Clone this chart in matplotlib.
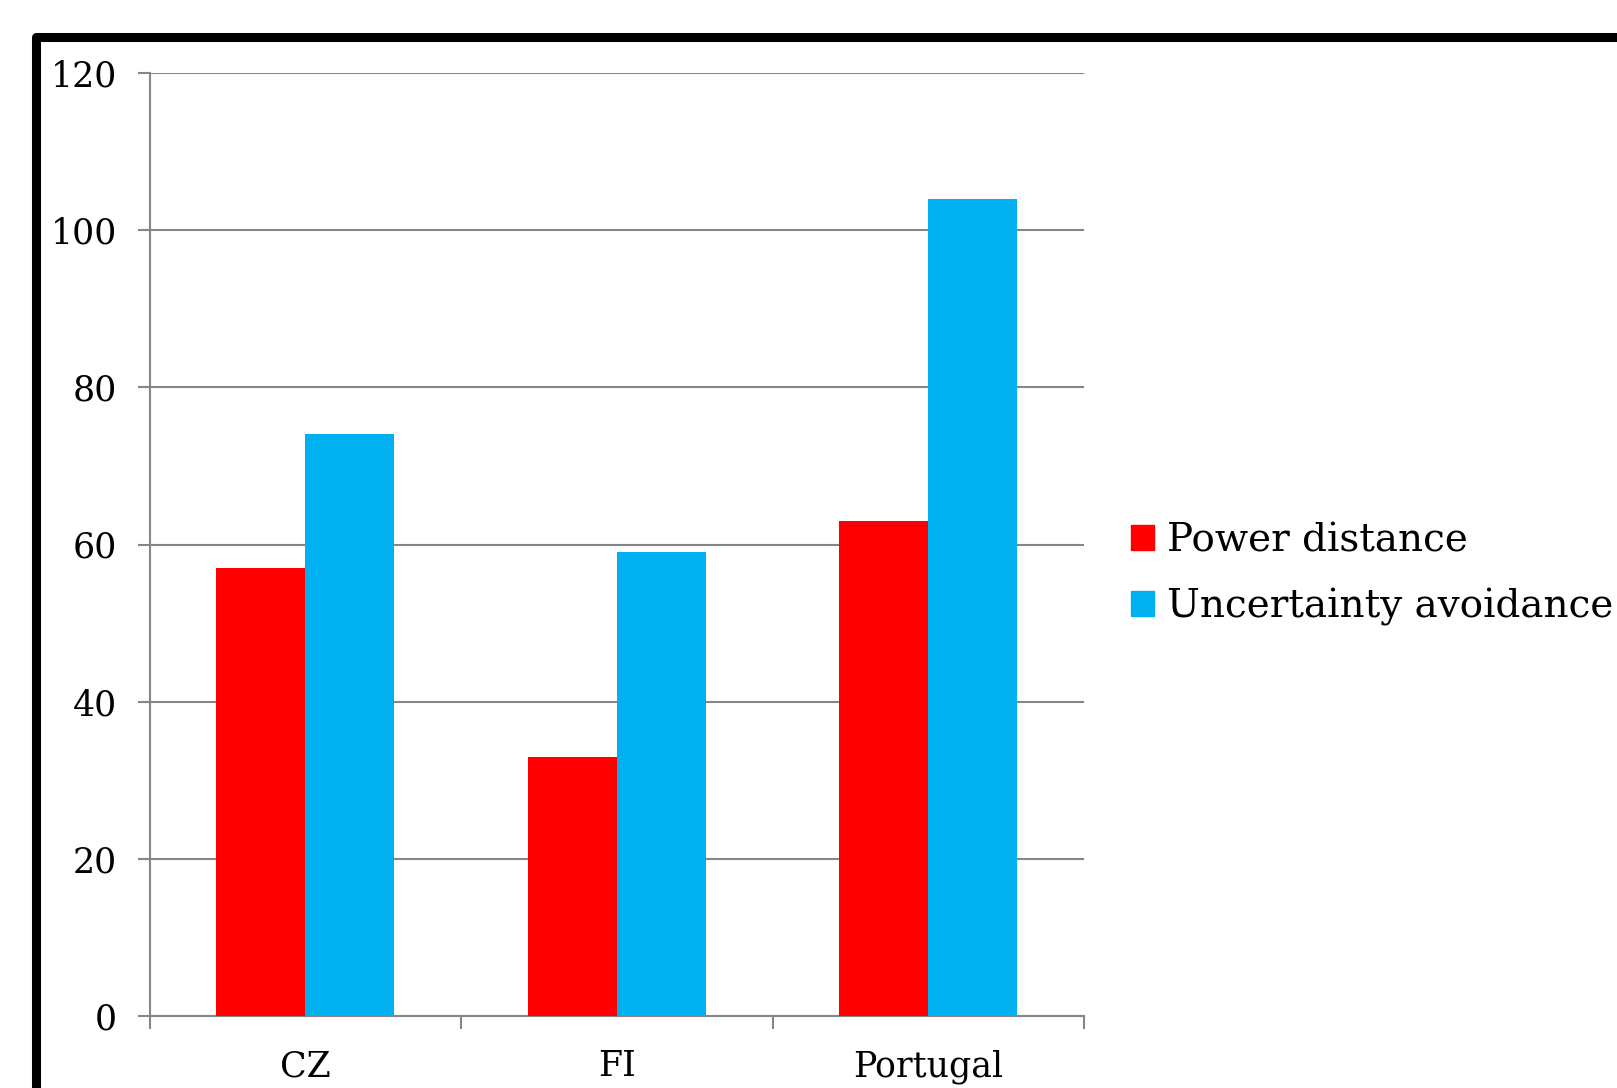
import numpy as np
import matplotlib
matplotlib.use("Agg")
import matplotlib.pyplot as plt
from matplotlib.lines import Line2D
from matplotlib.patches import Patch

# Hofstede scores per country
countries = ["CZ", "FI", "Portugal"]
power_distance = [57, 33, 63]
uncertainty_avoidance = [74, 59, 104]
series_names = ["Power distance", "Uncertainty avoidance"]
series_colors = ["#FF0000", "#00B0F0"]
y_ticks = [0, 20, 40, 60, 80, 100, 120]

W, H = 1617, 1088
plt.rcParams["font.family"] = ["DejaVu Serif"]
fig = plt.figure(figsize=(W / 100, H / 100), dpi=100)
ax = fig.add_axes([149.5 / W, 1 - 1016 / H, (1084 - 149.5) / W, (1016 - 73) / H])

grid_col = "#868686"
x = np.arange(len(countries))
bw = 0.286
ax.bar(x - bw / 2, power_distance, width=bw, color=series_colors[0], zorder=3)
ax.bar(x + bw / 2, uncertainty_avoidance, width=bw, color=series_colors[1], zorder=3)

ax.set_xlim(-0.5, len(countries) - 0.5)
ax.set_ylim(0, 120)
ax.set_yticks(y_ticks)
ax.set_yticklabels([str(v) for v in y_ticks], fontsize=25)
ax.yaxis.grid(True, color=grid_col, linewidth=1.5, zorder=0)
ax.set_axisbelow(True)

# boundaries get the tick marks, names sit in the middle
ax.set_xticks(np.arange(-0.5, len(countries), 1.0))
ax.set_xticklabels([])
ax.set_xticks(x, minor=True)
ax.set_xticklabels(countries, minor=True, fontsize=25)
ax.tick_params(axis="x", which="major", length=9.4, width=1.5, color=grid_col, direction="out")
ax.tick_params(axis="x", which="minor", length=0, pad=24)
ax.tick_params(axis="y", length=8.6, width=1.5, color=grid_col, pad=15)

for s in ["top", "right"]:
    ax.spines[s].set_visible(False)
for s in ["left", "bottom"]:
    ax.spines[s].set_color(grid_col)
    ax.spines[s].set_linewidth(1.5)

handles = [Patch(color=c) for c in series_colors]
fig.legend(handles, series_names, loc="center left",
           bbox_to_anchor=(1131 / W, 1 - 574 / H), frameon=False,
           fontsize=28, handlelength=0.59, handleheight=0.59,
           handletextpad=0.33, labelspacing=0.73, borderpad=0, borderaxespad=0)

# heavy black frame running off the right and bottom edges
frame = Line2D([36 / W, 36 / W, 1.05], [-0.05, 1 - 37 / H, 1 - 37 / H],
               transform=fig.transFigure, color="black", linewidth=6.5,
               solid_joinstyle="round")
fig.add_artist(frame)

fig.savefig("out.png", dpi=100)
